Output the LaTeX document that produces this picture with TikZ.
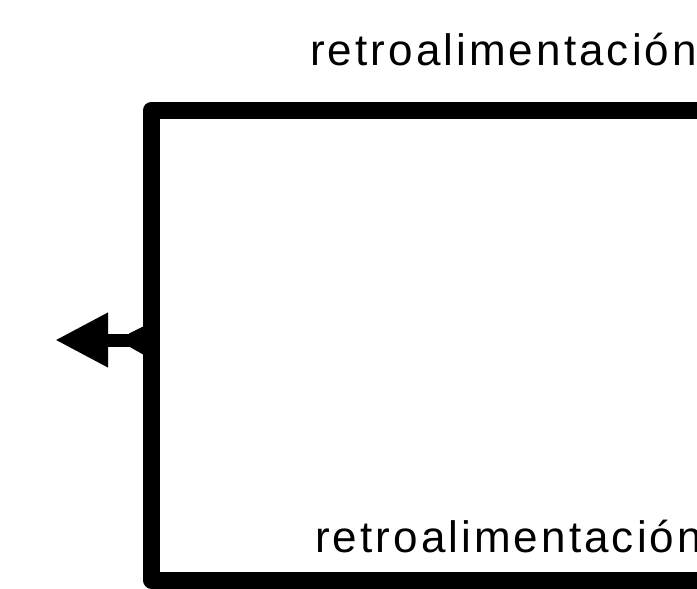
\documentclass[tikz,border=0pt]{standalone}
\usepackage{fontspec}
\setmainfont{Liberation Sans}
\newfontfamily\labelfont[LetterSpace=7]{Liberation Sans}
\usetikzlibrary{arrows.meta}
\tikzset{
  loopline/.style={line width=17pt, line join=round, line cap=butt, black},
  outarrow/.style={line width=13pt, black, -{Triangle[length=53pt,width=51pt]}},
  fblabel/.style={inner sep=0pt, font=\labelfont\fontsize{44pt}{50pt}\selectfont, anchor=base west}
}
\begin{document}
\begin{tikzpicture}[x=1pt,y=1pt]
  \useasboundingbox (0,0) rectangle (697,-589);
  \clip (0,0) rectangle (697,-589);
  \fill[white] (0,0) rectangle (697,-589);
  \coordinate (tr) at (710,-110);
  \coordinate (tl) at (151.5,-110);
  \coordinate (bl) at (151.5,-580);
  \coordinate (br) at (710,-580);
  \coordinate (junc) at (146,-340);
  \coordinate (tip) at (55,-340);
  \draw[loopline] (tr) -- (tl) -- (bl) -- (br);
  \draw[outarrow] (junc) -- (tip);
  \fill[black] (129,-333.5) -- (144,-326) -- (144,-355) -- (129,-346.5) -- cycle;
  \node[fblabel] (top) at (310,-65) {retroalimentación};
  \node[fblabel] (bot) at (315,-552) {retroalimentación};
\end{tikzpicture}
\end{document}
